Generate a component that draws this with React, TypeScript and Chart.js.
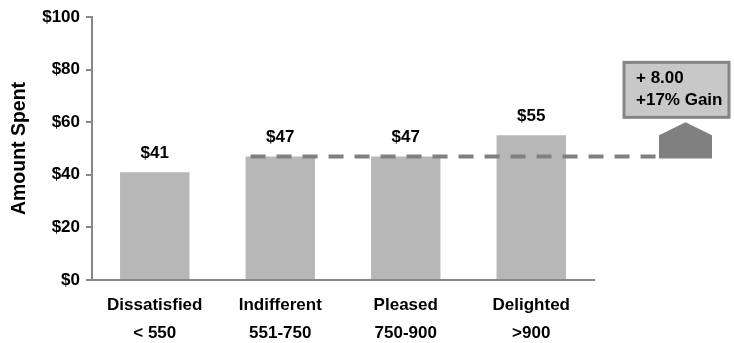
import React, { useEffect, useRef } from "react";
import { Chart, registerables } from "chart.js";

Chart.register(...registerables);

const categories = ["Dissatisfied", "Indifferent", "Pleased", "Delighted"];
const ranges = ["< 550", "551-750", "750-900", ">900"];
const amounts = [41, 47, 47, 55];
const yMin = 0;
const yMax = 100;
const yStep = 20;
const baseIndex = 1; // dashed reference level (Indifferent)
const topIndex = 3; // Delighted

const FONT = "'Liberation Sans', Arial, Helvetica, sans-serif";

const overlayPlugin = {
  id: "overlay",
  afterDatasetsDraw(chart: any) {
    const { ctx, chartArea } = chart;
    const y = chart.scales.y;
    const meta = chart.getDatasetMeta(0);
    ctx.save();
    // value labels
    ctx.font = `bold 17px ${FONT}`;
    ctx.fillStyle = "#000";
    ctx.textAlign = "center";
    ctx.textBaseline = "middle";
    meta.data.forEach((bar: any, i: number) => {
      ctx.fillText("$" + amounts[i], bar.x, bar.y - 19);
    });

    const baseVal = amounts[baseIndex];
    const topVal = amounts[topIndex];
    const yBase = y.getPixelForValue(baseVal);
    const yTop = y.getPixelForValue(topVal);
    const baseBar: any = meta.data[baseIndex];
    const startX = baseBar.x - baseBar.width / 2 + 5;
    const arrowL = chartArea.right + 65;
    const arrowR = chartArea.right + 118;

    // dashed line
    ctx.strokeStyle = "#808080";
    ctx.lineWidth = 4;
    ctx.setLineDash([15, 11]);
    ctx.beginPath();
    ctx.moveTo(startX, yBase);
    ctx.lineTo(arrowL, yBase);
    ctx.stroke();
    ctx.setLineDash([]);

    // arrow (house shape)
    ctx.fillStyle = "#808080";
    ctx.beginPath();
    ctx.moveTo(arrowL, yBase + 2);
    ctx.lineTo(arrowL, yTop);
    ctx.lineTo((arrowL + arrowR) / 2, yTop - 13);
    ctx.lineTo(arrowR, yTop);
    ctx.lineTo(arrowR, yBase + 2);
    ctx.closePath();
    ctx.fill();

    // box
    const bx = chartArea.right + 30;
    const by = yTop - 73;
    const bw = 105;
    const bh = 55;
    ctx.fillStyle = "#c8c8c8";
    ctx.fillRect(bx, by, bw, bh);
    ctx.strokeStyle = "#858585";
    ctx.lineWidth = 3;
    ctx.strokeRect(bx, by, bw, bh);

    const gain = topVal - baseVal;
    const pct = Math.round((gain / baseVal) * 100);
    ctx.fillStyle = "#000";
    ctx.textAlign = "left";
    ctx.font = `bold 17px ${FONT}`;
    ctx.fillText("+ " + gain.toFixed(2), bx + 12, by + 16);
    ctx.fillText("+" + pct + "% Gain", bx + 12, by + 38);
    ctx.restore();
  },
};

export default function App() {
  const ref = useRef<HTMLCanvasElement>(null);
  useEffect(() => {
    document.body.style.margin = "0";
    const chart = new Chart(ref.current as HTMLCanvasElement, {
      type: "bar",
      data: {
        labels: categories.map((c, i) => [c, ranges[i]]),
        datasets: [
          {
            data: amounts,
            backgroundColor: "#b7b7b7",
            borderWidth: 0,
            barPercentage: 0.553,
            categoryPercentage: 1,
          },
        ],
      },
      options: {
        responsive: false,
        animation: false,
        devicePixelRatio: 1,
        layout: { padding: { left: 0, right: 140, top: 17, bottom: 0 } },
        plugins: {
          legend: { display: false },
          tooltip: { enabled: false },
        },
        scales: {
          x: {
            grid: { display: false },
            border: { display: true, color: "#888", width: 2 },
            ticks: {
              color: "#000",
              padding: 3,
              maxRotation: 0,
              autoSkip: false,
              font: { family: FONT, size: 17, weight: "bold", lineHeight: 28 / 17 },
            },
            afterFit: (s: any) => {
              s.height = 63;
            },
          },
          y: {
            min: yMin,
            max: yMax,
            border: { display: true, color: "#888", width: 2 },
            grid: {
              drawOnChartArea: false,
              drawTicks: true,
              tickLength: 6,
              color: "#888",
              lineWidth: 2,
            },
            ticks: {
              stepSize: yStep,
              padding: 6,
              color: "#000",
              font: { family: FONT, size: 17, weight: "bold" },
              callback: (v: any) => "$" + v,
            },
            title: {
              display: true,
              text: "Amount Spent",
              color: "#000",
              padding: { top: 8, bottom: 0 },
              font: { family: FONT, size: 19.5, weight: "bold" },
            },
            afterFit: (s: any) => {
              s.width = 92;
            },
          },
        },
      },
      plugins: [overlayPlugin],
    } as any);
    return () => chart.destroy();
  }, []);
  return (
    <div style={{ position: "absolute", left: 0, top: 0, width: 734, height: 343 }}>
      <canvas ref={ref} width={734} height={343} />
    </div>
  );
}
